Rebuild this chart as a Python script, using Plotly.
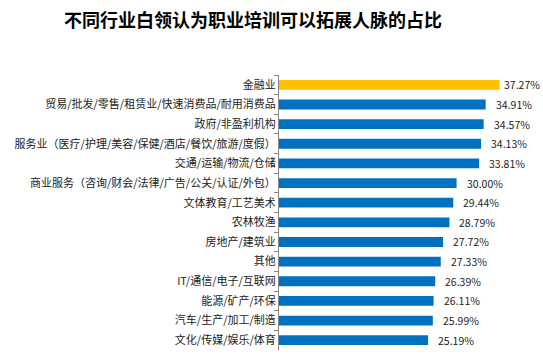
import plotly.graph_objects as go

categories = [
    "金融业",
    "贸易/批发/零售/租赁业/快速消费品/耐用消费品",
    "政府/非盈利机构",
    "服务业（医疗/护理/美容/保健/酒店/餐饮/旅游/度假）",
    "交通/运输/物流/仓储",
    "商业服务（咨询/财会/法律/广告/公关/认证/外包）",
    "文体教育/工艺美术",
    "农林牧渔",
    "房地产/建筑业",
    "其他",
    "IT/通信/电子/互联网",
    "能源/矿产/环保",
    "汽车/生产/加工/制造",
    "文化/传媒/娱乐/体育",
]
values = [37.27, 34.91, 34.57, 34.13, 33.81, 30.00, 29.44, 28.79, 27.72, 27.33, 26.39, 26.11, 25.99, 25.19]
title_text = "不同行业白领认为职业培训可以拓展人脉的占比"

colors = ["#FFC000" if i == 0 else "#0070C0" for i in range(len(values))]
texts = [f"{v:.2f}%" for v in values]
shifts = [2 if i == 0 else 8 for i in range(len(values))]

fig = go.Figure(go.Bar(
    x=values,
    y=categories,
    orientation="h",
    marker=dict(color=colors, line=dict(width=0)),
    width=0.5,
    hoverinfo="skip",
))

for cat, v, t, s in zip(categories, values, texts, shifts):
    fig.add_annotation(
        x=v, y=cat, text=t, showarrow=False,
        xanchor="left", yanchor="middle", xshift=s,
        font=dict(family="Noto Sans CJK SC", size=10.5, color="#222222"),
    )

fig.update_layout(
    width=543,
    height=356,
    margin=dict(l=279, r=0, t=75, b=6),
    paper_bgcolor="white",
    plot_bgcolor="white",
    showlegend=False,
    title=dict(
        text=title_text,
        x=253 / 543,
        xanchor="center",
        y=1 - 21 / 356,
        yanchor="middle",
        font=dict(family="Noto Sans CJK SC", size=18, color="black", weight="bold"),
    ),
    xaxis=dict(
        range=[0, 44.6],
        visible=False,
        showgrid=False,
        zeroline=False,
        automargin=False,
    ),
    yaxis=dict(
        autorange="reversed",
        automargin=False,
        showline=True,
        linecolor="#888888",
        linewidth=1,
        ticks="outside",
        tickson="boundaries",
        ticklen=4,
        tickcolor="#888888",
        tickfont=dict(family="Noto Sans CJK SC", size=11, color="#222222"),
        showgrid=False,
    ),
)

fig.write_html(
    "out.html",
    config={"displayModeBar": False},
    post_script="document.body.style.margin='0';",
)
